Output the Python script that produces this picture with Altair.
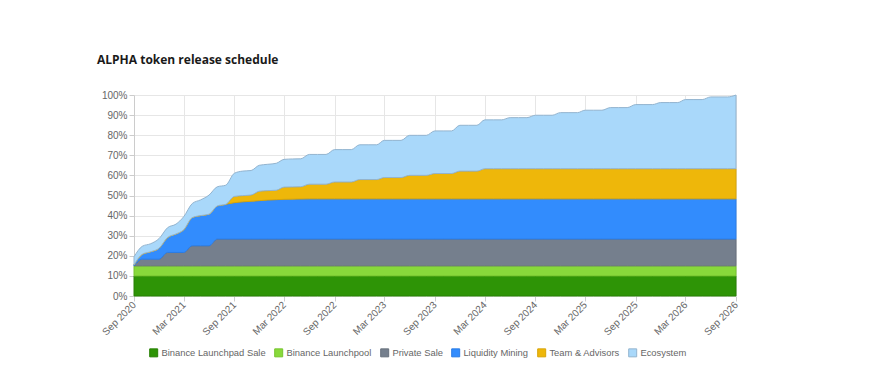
import altair as alt
import pandas as pd

# ---- data (cumulative % of total supply unlocked, monthly Sep 2020 .. Sep 2026) ----
categories = ["Binance Launchpad Sale", "Binance Launchpool", "Private Sale",
              "Liquidity Mining", "Team & Advisors", "Ecosystem"]
fill_colors = ["#2e9406", "#88d93b", "#757f8d", "#328cfd", "#eeb70a", "#a9d8fa"]
line_colors = ["#288004", "#77c42f", "#68717d", "#2a7ce6", "#d8a408", "#93b4cf"]

launchpad = [10, 10, 10, 10, 10, 10, 10, 10, 10, 10, 10, 10,
             10, 10, 10, 10, 10, 10, 10, 10, 10, 10, 10, 10,
             10, 10, 10, 10, 10, 10, 10, 10, 10, 10, 10, 10,
             10, 10, 10, 10, 10, 10, 10, 10, 10, 10, 10, 10,
             10, 10, 10, 10, 10, 10, 10, 10, 10, 10, 10, 10,
             10, 10, 10, 10, 10, 10, 10, 10, 10, 10, 10, 10, 10]
launchpool = [5, 5, 5, 5, 5, 5, 5, 5, 5, 5, 5, 5,
              5, 5, 5, 5, 5, 5, 5, 5, 5, 5, 5, 5,
              5, 5, 5, 5, 5, 5, 5, 5, 5, 5, 5, 5,
              5, 5, 5, 5, 5, 5, 5, 5, 5, 5, 5, 5,
              5, 5, 5, 5, 5, 5, 5, 5, 5, 5, 5, 5,
              5, 5, 5, 5, 5, 5, 5, 5, 5, 5, 5, 5, 5]
private_sale = [0, 3.33, 3.33, 3.33, 6.67, 6.67, 6.67, 10, 10, 10, 13.33, 13.33,
                13.33, 13.33, 13.33, 13.33, 13.33, 13.33, 13.33, 13.33, 13.33, 13.33, 13.33, 13.33,
                13.33, 13.33, 13.33, 13.33, 13.33, 13.33, 13.33, 13.33, 13.33, 13.33, 13.33, 13.33,
                13.33, 13.33, 13.33, 13.33, 13.33, 13.33, 13.33, 13.33, 13.33, 13.33, 13.33, 13.33,
                13.33, 13.33, 13.33, 13.33, 13.33, 13.33, 13.33, 13.33, 13.33, 13.33, 13.33, 13.33,
                13.33, 13.33, 13.33, 13.33, 13.33, 13.33, 13.33, 13.33, 13.33, 13.33, 13.33, 13.33, 13.33]
liquidity_mining = [0.5, 2.4, 3.7, 5.4, 7.4, 9.2, 11.3, 14.0, 15.0, 15.7, 16.5, 17.3,
                    18.1, 18.5, 18.8, 19.1, 19.4, 19.6, 19.75, 19.85, 19.93, 20, 20, 20,
                    20, 20, 20, 20, 20, 20, 20, 20, 20, 20, 20, 20,
                    20, 20, 20, 20, 20, 20, 20, 20, 20, 20, 20, 20,
                    20, 20, 20, 20, 20, 20, 20, 20, 20, 20, 20, 20,
                    20, 20, 20, 20, 20, 20, 20, 20, 20, 20, 20, 20, 20]
team_advisors = [0, 0, 0, 0, 0, 0, 0, 0, 0, 0, 0, 0,
                 3.1, 3.1, 3.1, 4.7, 4.7, 4.7, 6.1, 6.1, 6.1, 7.3, 7.3, 7.3,
                 8.4, 8.4, 8.4, 9.6, 9.6, 9.6, 10.6, 10.6, 10.6, 11.7, 11.7, 11.7,
                 12.6, 12.6, 12.6, 13.8, 13.8, 13.8, 15, 15, 15, 15, 15, 15,
                 15, 15, 15, 15, 15, 15, 15, 15, 15, 15, 15, 15,
                 15, 15, 15, 15, 15, 15, 15, 15, 15, 15, 15, 15, 15]
ecosystem = [4.0, 4.0, 4.0, 4.8, 4.9, 4.9, 6.5, 7.0, 7.8, 9.5, 9.5, 9.5,
             11.5, 12.2, 12.2, 12.9, 13.1, 13.4, 13.8, 13.9, 13.9, 14.8, 14.8, 14.8,
             16.1, 16.1, 16.1, 17.3, 17.3, 17.3, 18.5, 18.5, 18.5, 19.9, 19.9, 19.9,
             21.2, 21.2, 21.2, 22.8, 22.8, 22.8, 24.3, 24.3, 24.3, 25.4, 25.4, 25.4,
             26.6, 26.6, 26.6, 27.9, 27.9, 27.9, 29.1, 29.1, 29.1, 30.4, 30.4, 30.4,
             31.9, 31.9, 31.9, 32.9, 32.9, 32.9, 34.4, 34.4, 34.4, 35.7, 35.7, 35.7, 36.67]

series = [launchpad, launchpool, private_sale, liquidity_mining, team_advisors, ecosystem]
months = pd.date_range("2020-09-01", "2026-09-01", freq="MS")
tick_dates = [(2020 + (8 + 6 * k) // 12, (8 + 6 * k) % 12 + 1) for k in range(13)]

rows = []
for k, (cat, vals) in enumerate(zip(categories, series)):
    for d, v in zip(months, vals):
        rows.append({"date": d.strftime("%Y-%m-%dT00:00:00"), "category": cat,
                     "value": v, "order": k})
df = pd.DataFrame(rows)

label_font = "Liberation Sans"

chart = alt.Chart(df).mark_area(interpolate="monotone", strokeWidth=1).encode(
    x=alt.X("date:T",
            scale=alt.Scale(domain=[alt.DateTime(year=2020, month=9, date=1),
                                    alt.DateTime(year=2026, month=9, date=1)], nice=False),
            axis=alt.Axis(title=None, format="%b %Y",
                          values=[alt.DateTime(year=y, month=m, date=1) for y, m in tick_dates],
                          labelAngle=-45, labelAlign="right", labelBaseline="middle",
                          labelFont=label_font, labelFontSize=10, labelColor="#666666",
                          labelPadding=2, tickSize=5, tickColor="#cccccc",
                          domain=False, grid=True, gridColor="#e6e6e6",
                          labelOverlap=False)),
    y=alt.Y("value:Q", stack="zero",
            scale=alt.Scale(domain=[0, 100], nice=False, clamp=True),
            axis=alt.Axis(title=None, values=[0, 10, 20, 30, 40, 50, 60, 70, 80, 90, 100],
                          labelExpr="datum.value + '%'",
                          labelFont=label_font, labelFontSize=10, labelColor="#666666",
                          labelPadding=2, tickSize=5, tickColor="#cccccc",
                          domain=True, domainColor="#cccccc",
                          grid=True, gridColor="#e6e6e6")),
    color=alt.Color("category:N",
                    scale=alt.Scale(domain=categories, range=fill_colors),
                    legend=alt.Legend(title=None, orient="none", direction="horizontal",
                                      legendX=15, legendY=253,
                                      symbolType="square", symbolSize=64,
                                      symbolStrokeWidth=1, labelOffset=3,
                                      labelFont=label_font, labelFontSize=9.4,
                                      labelColor="#666666", columnPadding=6,
                                      labelLimit=300)),
    stroke=alt.Stroke("category:N",
                      scale=alt.Scale(domain=categories, range=line_colors),
                      legend=None),
    order=alt.Order("order:Q", sort="ascending"),
).properties(
    width=602,
    height=201,
    autosize=alt.AutoSizeParams(type="none"),
    padding={"left": 126, "top": 87, "right": 30, "bottom": 76},
    title=alt.Title("ALPHA token release schedule", anchor="start", frame="group",
                    dx=-37, offset=14, baseline="alphabetic",
                    font="Open Sans", fontSize=12, fontWeight="bold", color="#1a1a1a"),
    background="white",
).configure_view(strokeWidth=0)

chart.save("out.html", embed_options={"renderer": "svg", "actions": False})
